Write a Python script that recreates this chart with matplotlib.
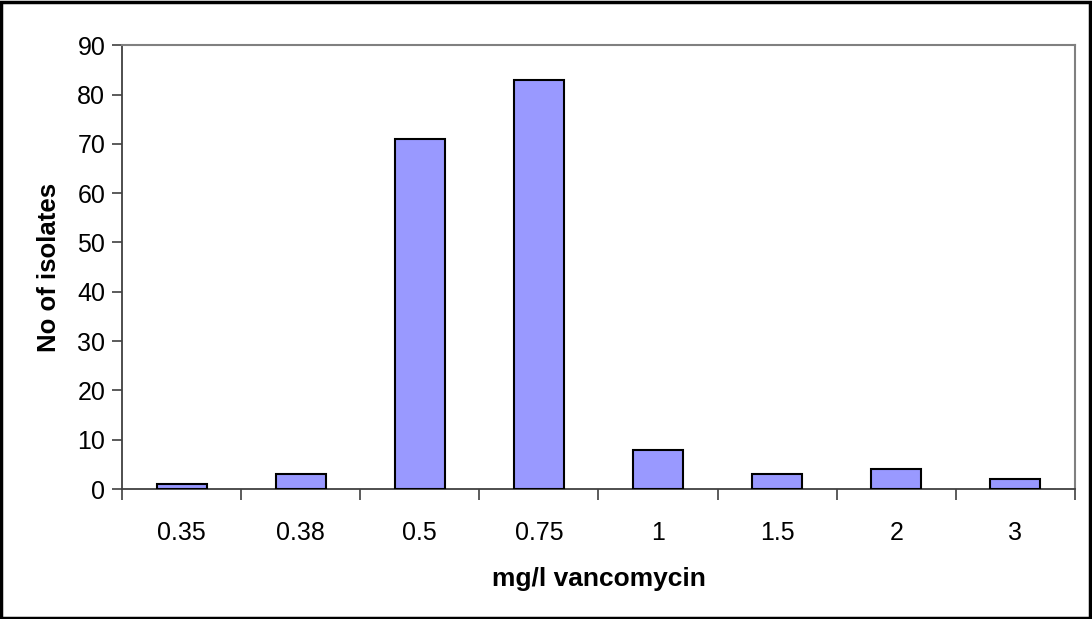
import matplotlib
matplotlib.use("Agg")
import matplotlib.pyplot as plt
from matplotlib.patches import Rectangle
import numpy as np

categories = ["0.35", "0.38", "0.5", "0.75", "1", "1.5", "2", "3"]
counts = [1, 3, 71, 83, 8, 3, 4, 2]
yticks = [0, 10, 20, 30, 40, 50, 60, 70, 80, 90]

plt.rcParams['font.family'] = ['Liberation Sans', 'DejaVu Sans']

fig = plt.figure(figsize=(10.92, 6.19), dpi=100)
ax = fig.add_axes([0.1117, 0.21, 0.8727, 0.717])

x = np.arange(len(categories))
ax.bar(x, counts, width=0.42, color="#9999FF", edgecolor="black", linewidth=1.5, zorder=3)

ax.set_xlim(-0.5, len(categories) - 0.5)
ax.set_ylim(0, 90)
ax.set_yticks(yticks)
ax.set_xticks(x)
ax.set_xticklabels(categories)
ax.set_xticks(np.arange(-0.5, len(categories), 1.0), minor=True)
ax.tick_params(axis='x', which='major', length=0, pad=23, labelsize=18)
ax.tick_params(axis='x', which='minor', length=8, width=1.2, color="#404040", direction='out')
ax.tick_params(axis='y', length=7, width=1.2, color="#404040", labelsize=18, pad=5)

for s in ['left', 'bottom']:
    ax.spines[s].set_color("#404040")
    ax.spines[s].set_linewidth(1.3)
for s in ['top', 'right']:
    ax.spines[s].set_color("#808080")
    ax.spines[s].set_linewidth(1.5)

ax.set_ylabel("No of isolates", fontsize=18.5, fontweight='bold', labelpad=12)
ax.set_xlabel("mg/l vancomycin", fontsize=19, fontweight='bold', labelpad=16)

fig.patches.append(Rectangle((0.001, 0.002), 0.997, 0.995, transform=fig.transFigure,
                             fill=False, edgecolor="black", linewidth=2.5))

fig.savefig("out.png", dpi=100)
